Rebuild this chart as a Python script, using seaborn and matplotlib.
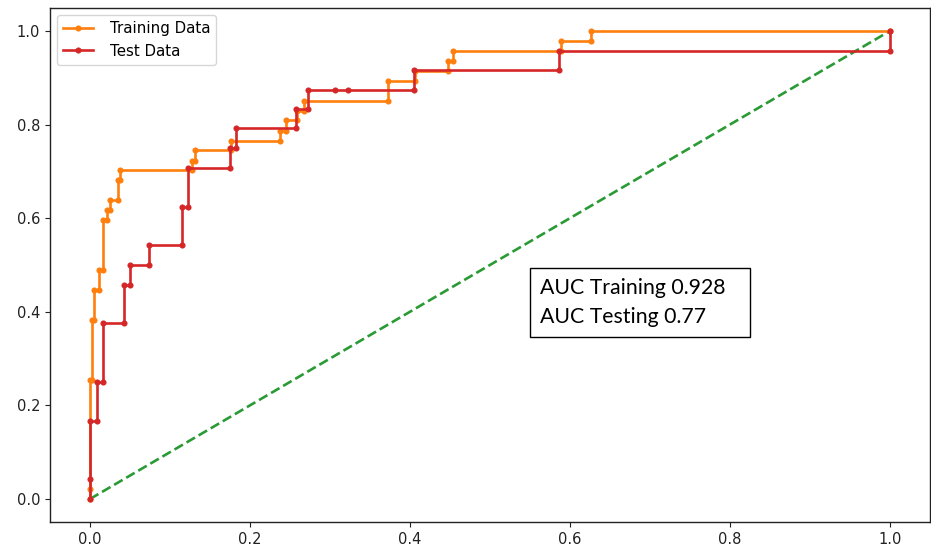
import matplotlib
matplotlib.use("Agg")
import matplotlib.pyplot as plt
from matplotlib.patches import Rectangle
import seaborn as sns
import pandas as pd

# ROC points (false positive rate, true positive rate)
train_fpr = [0.0, 0.0, 0.0, 0.0025, 0.0025, 0.005, 0.005, 0.011, 0.011, 0.016, 0.016,
             0.021, 0.021, 0.025, 0.025, 0.035, 0.035, 0.038, 0.038, 0.127, 0.127,
             0.131, 0.131, 0.176, 0.176, 0.237, 0.237, 0.245, 0.245, 0.259, 0.259,
             0.268, 0.268, 0.372, 0.372, 0.406, 0.406, 0.447, 0.447, 0.454, 0.454,
             0.589, 0.589, 0.627, 0.627, 1.0]
train_tpr = [0.0, 0.021, 0.255, 0.255, 0.383, 0.383, 0.447, 0.447, 0.489, 0.489, 0.596,
             0.596, 0.617, 0.617, 0.638, 0.638, 0.681, 0.681, 0.702, 0.702, 0.723,
             0.723, 0.745, 0.745, 0.766, 0.766, 0.787, 0.787, 0.809, 0.809, 0.830,
             0.830, 0.851, 0.851, 0.894, 0.894, 0.915, 0.915, 0.936, 0.936, 0.957,
             0.957, 0.979, 0.979, 1.0, 1.0]

test_fpr = [0.0, 0.0, 0.0, 0.009, 0.009, 0.0166, 0.0166, 0.0424, 0.0424, 0.05, 0.05,
            0.0737, 0.0737, 0.115, 0.115, 0.123, 0.123, 0.1745, 0.1745, 0.183, 0.183,
            0.257, 0.257, 0.273, 0.273, 0.3065, 0.3225, 0.405, 0.405, 0.587, 0.587,
            1.0, 1.0]
test_tpr = [0.0, 0.042, 0.167, 0.167, 0.25, 0.25, 0.375, 0.375, 0.458, 0.458, 0.5,
            0.5, 0.542, 0.542, 0.625, 0.625, 0.708, 0.708, 0.75, 0.75, 0.792,
            0.792, 0.833, 0.833, 0.875, 0.875, 0.875, 0.875, 0.917, 0.917, 0.958,
            0.958, 1.0]

chance_x = [0.0, 1.0]
chance_y = [0.0, 1.0]

series_labels = ["Training Data", "Test Data"]
auc_lines = ["AUC Training 0.928", "AUC Testing 0.77"]
ticks = [0.0, 0.2, 0.4, 0.6, 0.8, 1.0]

train_df = pd.DataFrame({"fpr": train_fpr, "tpr": train_tpr})
test_df = pd.DataFrame({"fpr": test_fpr, "tpr": test_tpr})
chance_df = pd.DataFrame({"fpr": chance_x, "tpr": chance_y})

plt.rcParams["font.family"] = ["DejaVu Sans"]
fig = plt.figure(figsize=(9.31, 5.49), dpi=100)
ax = fig.add_axes([0.0537, 0.0485, 0.9450, 0.9376])

orange = "#ff7f0e"
red = "#d62728"
green = "#2a9a35"

sns.lineplot(data=chance_df, x="fpr", y="tpr", sort=False, estimator=None,
             color=green, linestyle="--", linewidth=1.9, ax=ax, zorder=1)
sns.lineplot(data=train_df, x="fpr", y="tpr", sort=False, estimator=None,
             color=orange, marker="o", markersize=4.4, markeredgecolor=orange,
             markeredgewidth=0, linewidth=1.9, label=series_labels[0], ax=ax, zorder=2)
sns.lineplot(data=test_df, x="fpr", y="tpr", sort=False, estimator=None,
             color=red, marker="o", markersize=4.4, markeredgecolor=red,
             markeredgewidth=0, linewidth=1.9, label=series_labels[1], ax=ax, zorder=3)

ax.set_xlim(-0.05, 1.05)
ax.set_ylim(-0.05, 1.05)
ax.set_xticks(ticks)
ax.set_yticks(ticks)
ax.set_xticklabels([f"{t:.1f}" for t in ticks])
ax.set_yticklabels([f"{t:.1f}" for t in ticks])
ax.tick_params(labelsize=10.5, colors="#222222", labelcolor="#222222")
ax.set_xlabel("")
ax.set_ylabel("")
for s in ax.spines.values():
    s.set_color("#222222")
    s.set_linewidth(1.0)

ax.legend(loc="upper left", fontsize=10.8, handlelength=2.0, handletextpad=1.1)

ax.add_patch(Rectangle((0.546, 0.360), 0.2497, 0.134, transform=ax.transAxes,
                       facecolor="white", edgecolor="black", linewidth=1.0, zorder=5))
ax.text(0.5573, 0.427, "\n".join(auc_lines), transform=ax.transAxes,
        ha="left", va="center", fontsize=15.3, family=["Lato", "DejaVu Sans"],
        linespacing=1.55, color="black", zorder=6)

fig.savefig("out.png", dpi=100)
